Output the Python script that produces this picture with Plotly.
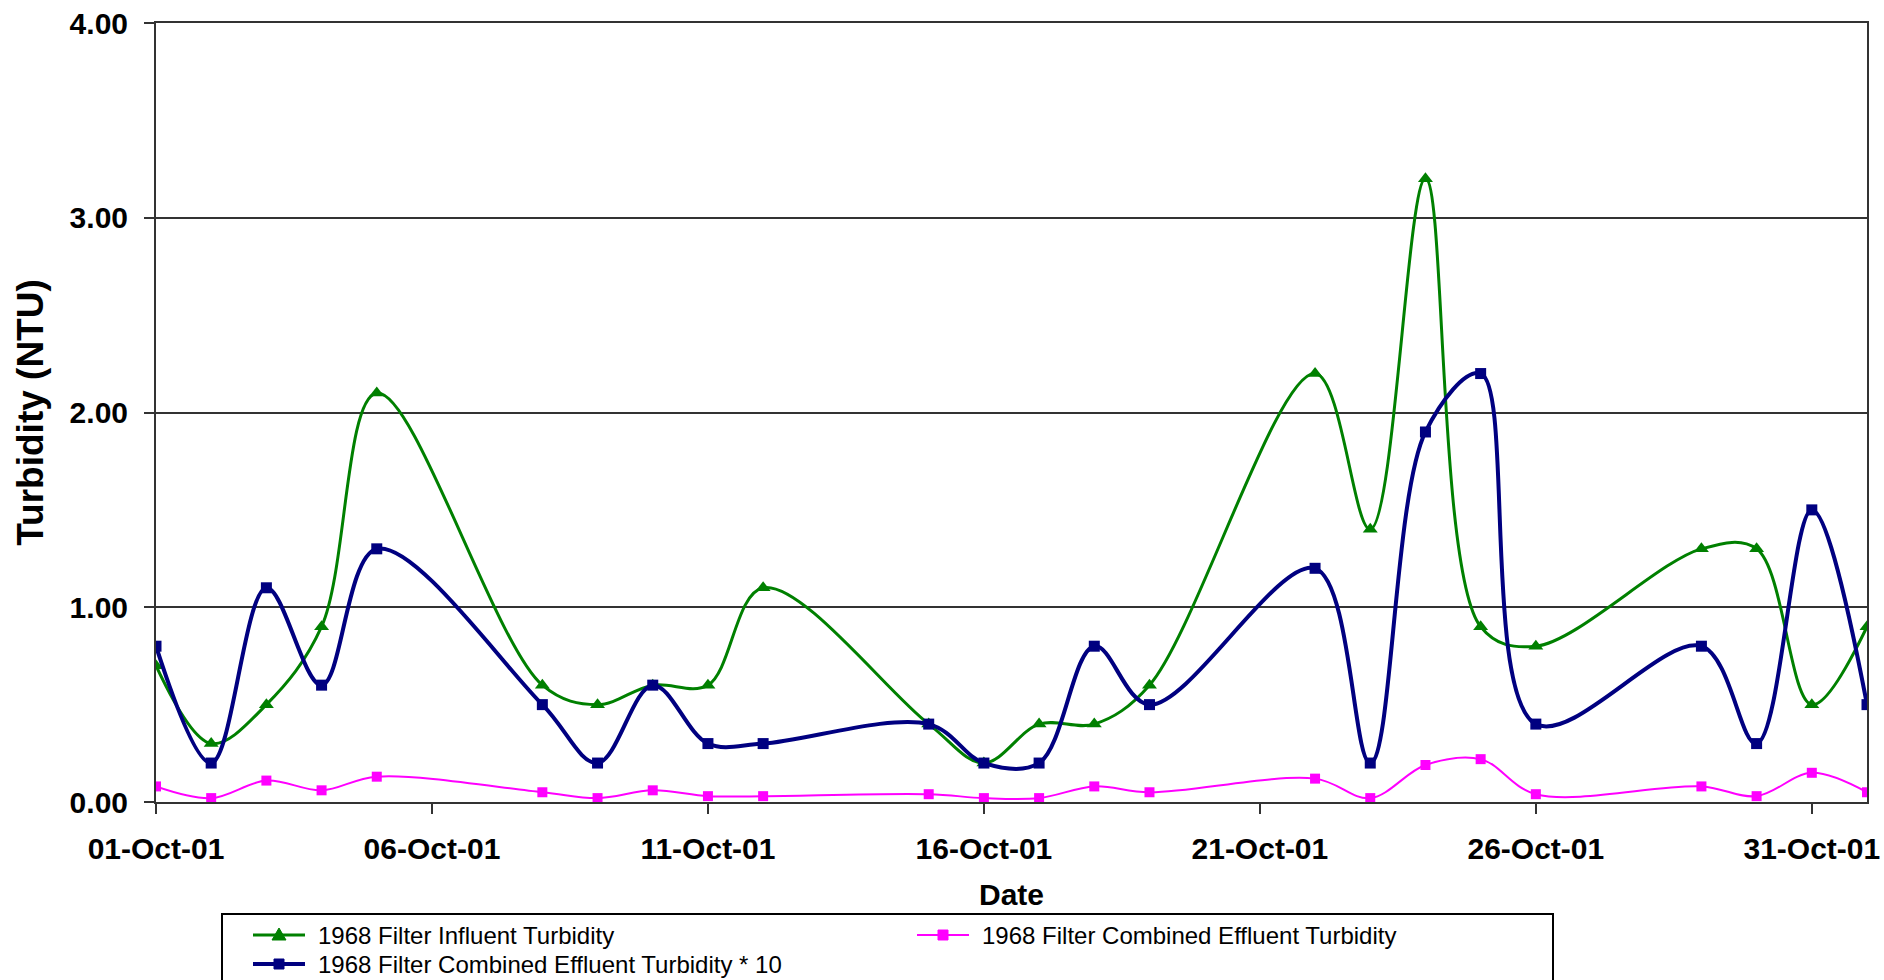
import plotly.graph_objects as go

# Sampling dates (weekdays, October 2001)
dates = [
    "2001-10-01", "2001-10-02", "2001-10-03", "2001-10-04", "2001-10-05",
    "2001-10-08", "2001-10-09", "2001-10-10", "2001-10-11", "2001-10-12",
    "2001-10-15", "2001-10-16", "2001-10-17", "2001-10-18", "2001-10-19",
    "2001-10-22", "2001-10-23", "2001-10-24", "2001-10-25", "2001-10-26",
    "2001-10-29", "2001-10-30", "2001-10-31", "2001-11-01",
]

# Filter influent turbidity (NTU)
influent = [
    0.7, 0.3, 0.5, 0.9, 2.1,
    0.6, 0.5, 0.6, 0.6, 1.1,
    0.4, 0.2, 0.4, 0.4, 0.6,
    2.2, 1.4, 3.2, 0.9, 0.8,
    1.3, 1.3, 0.5, 0.9,
]

# Filter combined effluent turbidity (NTU)
effluent = [
    0.08, 0.02, 0.11, 0.06, 0.13,
    0.05, 0.02, 0.06, 0.03, 0.03,
    0.04, 0.02, 0.02, 0.08, 0.05,
    0.12, 0.02, 0.19, 0.22, 0.04,
    0.08, 0.03, 0.15, 0.05,
]

# Effluent scaled by 10 so it reads on the same axis
effluent_x10 = [round(v * 10, 2) for v in effluent]

y_ticks = [0, 1, 2, 3, 4]
y_tick_labels = ["0.00", "1.00", "2.00", "3.00", "4.00"]

series_names = [
    "1968 Filter Influent Turbidity",
    "1968 Filter Combined Effluent Turbidity",
    "1968 Filter Combined Effluent Turbidity * 10",
]

FONT = "Liberation Sans, Arial, sans-serif"
GREEN = "#008000"
NAVY = "#000080"
MAGENTA = "#FF00FF"
AXIS = "#333333"

W, H = 1884, 980
M_L, M_R, M_T, M_B = 156, 17, 23, 178
PLOT_W = W - M_L - M_R
PLOT_H = H - M_T - M_B


def px(x):
    """Figure pixel column -> paper x."""
    return (x - M_L) / PLOT_W


def py(y):
    """Figure pixel row -> paper y."""
    return (H - M_B - y) / PLOT_H


fig = go.Figure()

fig.add_trace(go.Scatter(
    x=dates, y=influent, name=series_names[0],
    mode="lines+markers",
    line=dict(color=GREEN, width=3, shape="spline", smoothing=1),
    marker=dict(symbol="triangle-up", size=13, color=GREEN),
))
fig.add_trace(go.Scatter(
    x=dates, y=effluent, name=series_names[1],
    mode="lines+markers",
    line=dict(color=MAGENTA, width=2, shape="spline", smoothing=1),
    marker=dict(symbol="square", size=10, color=MAGENTA),
))
fig.add_trace(go.Scatter(
    x=dates, y=effluent_x10, name=series_names[2],
    mode="lines+markers",
    line=dict(color=NAVY, width=4, shape="spline", smoothing=1),
    marker=dict(symbol="square", size=11, color=NAVY),
))

# Key box below the chart: two rows, two columns
shapes = [dict(
    type="rect", xref="paper", yref="paper", layer="above",
    x0=px(222), x1=px(1553), y0=py(1010), y1=py(914),
    line=dict(color="black", width=2), fillcolor="white",
)]
annotations = []

key_entries = [
    # (series index, colour, line width, marker kind, sample start x, row y)
    (0, GREEN, 3, "triangle", 253, 935),
    (1, MAGENTA, 2, "square", 917, 935),
    (2, NAVY, 4, "square", 253, 964),
]
for idx, color, lw, kind, x0, yc in key_entries:
    shapes.append(dict(
        type="line", xref="paper", yref="paper", layer="above",
        x0=px(x0), x1=px(x0 + 52), y0=py(yc), y1=py(yc),
        line=dict(color=color, width=lw),
    ))
    cx = x0 + 26
    if kind == "triangle":
        path = "M {},{} L {},{} L {},{} Z".format(
            px(cx - 7), py(yc + 5), px(cx + 7), py(yc + 5), px(cx), py(yc - 7))
    else:
        s = 5
        path = "M {},{} L {},{} L {},{} L {},{} Z".format(
            px(cx - s), py(yc - s), px(cx + s), py(yc - s),
            px(cx + s), py(yc + s), px(cx - s), py(yc + s))
    shapes.append(dict(
        type="path", xref="paper", yref="paper", layer="above", path=path,
        fillcolor=color, line=dict(color=color, width=1),
    ))
    annotations.append(dict(
        text=series_names[idx], xref="paper", yref="paper",
        x=px(x0 + 64), y=py(yc), xanchor="left", yanchor="middle",
        showarrow=False, borderpad=0,
        font=dict(family=FONT, size=24, color="black"),
    ))

fig.update_layout(
    width=W, height=H,
    margin=dict(l=M_L, r=M_R, t=M_T, b=M_B, autoexpand=False),
    paper_bgcolor="white", plot_bgcolor="white",
    font=dict(family=FONT, color="black"),
    showlegend=False,
    shapes=shapes,
    annotations=annotations,
    xaxis=dict(
        type="date",
        range=["2001-10-01", "2001-11-01"],
        tick0="2001-10-01", dtick=5 * 24 * 3600 * 1000,
        tickformat="%d-%b-%y",
        ticks="outside", ticklen=10, tickwidth=2, tickcolor=AXIS,
        ticklabelstandoff=9,
        tickfont=dict(family=FONT, size=30, color="black", weight="bold"),
        showgrid=False,
        showline=True, linecolor=AXIS, linewidth=2, mirror=True,
        zeroline=False,
        title=dict(text="<b>Date</b>", font=dict(family=FONT, size=30, color="black"), standoff=20),
    ),
    yaxis=dict(
        range=[0, 4],
        tickvals=y_ticks, ticktext=y_tick_labels,
        ticks="outside", ticklen=10, tickwidth=2, tickcolor=AXIS,
        ticklabelstandoff=10,
        tickfont=dict(family=FONT, size=30, color="black", weight="bold"),
        showgrid=True, gridcolor=AXIS, gridwidth=2,
        showline=True, linecolor=AXIS, linewidth=2, mirror=True,
        zeroline=False,
        title=dict(text="<b>Turbidity (NTU)</b>", font=dict(family=FONT, size=37, color="black"), standoff=15),
    ),
)

fig.write_html("out.html")
